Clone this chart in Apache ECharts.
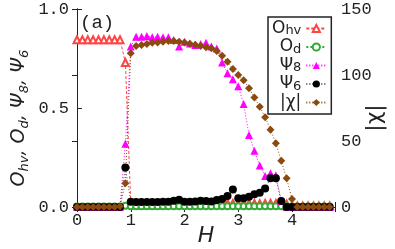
<!DOCTYPE html>
<html><head><meta charset="utf-8">
<script src="https://cdn.jsdelivr.net/npm/echarts@6/dist/echarts.min.js"></script>
<style>html,body{margin:0;padding:0;background:#fff}#c{width:395px;height:249px}</style>
</head><body><div id="c"></div>
<script>
const H = [0,0.1,0.2,0.3,0.4,0.5,0.6,0.7,0.8,0.9,1.0,1.1,1.2,1.3,1.4,1.5,1.6,1.7,1.8,1.9,2.0,2.1,2.2,2.3,2.4,2.5,2.6,2.7,2.8,2.9,3.0,3.1,3.2,3.3,3.4,3.5,3.6,3.7,3.8,3.9,4.0,4.1,4.2,4.3,4.4,4.5,4.6,4.7];
const Ohv = [0.845,0.845,0.845,0.845,0.845,0.845,0.845,0.845,0.845,0.73,0.02,0.01,0.01,0.01,0.01,0.01,0.01,0.012,0.015,0.018,0.016,0.018,0.017,0.018,0.019,0.018,0.017,0.018,0.019,0.018,0.017,0.018,0.019,0.018,0.017,0.018,0.019,0.018,0.017,0.015,0.005,0.005,0.005,0.005,0.005,0.005,0.005,0.005];
const Od = [0.003,0.003,0.003,0.003,0.003,0.003,0.003,0.003,0.003,0.006,0.004,0.004,0.004,0.004,0.004,0.004,0.004,0.004,0.004,0.004,0.004,0.004,0.004,0.004,0.004,0.004,0.004,0.004,0.004,0.004,0.004,0.004,0.004,0.004,0.004,0.004,0.004,0.004,0.004,0.004,0.003,0.003,0.003,0.003,0.003,0.003,0.003,0.003];
const Psi8 = [0,0,0,0,0,0,0,0,0,0.32,0.81,0.86,0.86,0.864,0.857,0.86,0.857,0.857,0.843,0.81,0.835,0.826,0.818,0.823,0.83,0.81,0.80,0.73,0.675,0.645,0.61,0.52,0.364,0.284,0.21,0.157,0.17,0.16,0.03,0,0,0,0,0,0,0,0,0];
const Psi6 = [0,0,0,0,0,0,0,0,0,0.2,0.027,0.025,0.025,0.025,0.025,0.025,0.026,0.027,0.032,0.036,0.027,0.027,0.028,0.032,0.03,0.028,0.035,0.04,0.055,0.088,0.044,0.044,0.052,0.064,0.072,0.094,0.145,0.145,0.03,0,0,0,0,0,0,0,0,0];
const Chi = [0,0,0,0,0,0,0,0,0.5,18,116.5,122,122.7,123.5,124.5,124.7,125.2,125.8,125.8,125.2,124.7,123.7,122.9,122,121,120.2,118.2,114.6,110,104.5,100,96,90,83,76,68,58.5,48.3,35,21.7,6,0,0,0,0,0,0,0];
const xTicks = [0,1,2,3,4];
const leftTicks = [0,0.5,1.0];
const rightTicks = [0,50,100,150];

const pair = arr => H.map((h,i)=>[h,arr[i]]);
const tickFont = {fontFamily:'Liberation Mono', fontSize:17, color:'#222'};
const legendNames = {
  Ohv:'{b|O}{s|hv}', Od:'{b|O}{s|d}', Psi8:'{b|Ψ}{s|8}', Psi6:'{b|Ψ}{s|6}', chi:'{b||χ|}'
};
const chart = echarts.init(document.getElementById('c'), null, {renderer:'canvas'});
chart.setOption({
  animation:false,
  backgroundColor:'#fff',
  title:{text:'(a)', left:80, top:13, padding:0, textStyle:{fontFamily:'Liberation Mono', fontSize:19, fontWeight:'normal', color:'#222'}},
  grid:{left:77, right:60, top:9, bottom:42, containLabel:false, outerBoundsMode:'none'},
  legend:{
    orient:'vertical', left:268, top:17, align:'right', padding:[3,4,3,4], itemGap:1,
    itemWidth:20, itemHeight:9, borderColor:'#222', borderWidth:1.5, backgroundColor:'#fff',
    data:['Ohv','Od','Psi8','Psi6','chi'],
    formatter: n => legendNames[n],
    textStyle:{color:'#222', rich:{
      b:{fontFamily:'DejaVu Sans', fontSize:17, color:'#222', lineHeight:18, verticalAlign:'middle'},
      s:{fontFamily:'DejaVu Sans', fontSize:13, color:'#222', verticalAlign:'bottom', lineHeight:4}
    }}
  },
  xAxis:[{
    type:'value', min:0, max:4.8, interval:1, position:'bottom',
    axisLine:{lineStyle:{color:'#222', width:1}},
    axisTick:{inside:true, length:5, lineStyle:{color:'#222'}},
    minorTick:{show:true, splitNumber:5, length:3, lineStyle:{color:'#222'}},
    splitLine:{show:false},
    axisLabel:Object.assign({margin:5, showMaxLabel:false, formatter:v=>xTicks.includes(v)?String(v):''}, tickFont),
    name:'H', nameLocation:'middle', nameGap:18, nameMoveOverlap:false,
    nameTextStyle:{fontFamily:'DejaVu Sans', fontStyle:'italic', fontSize:22, color:'#222', verticalAlign:'top'}
  },{
    type:'value', min:0, max:4.8, interval:1, position:'top',
    axisLine:{lineStyle:{color:'#222', width:1}},
    axisTick:{inside:true, length:5, lineStyle:{color:'#222'}},
    minorTick:{show:true, splitNumber:5, length:3, lineStyle:{color:'#222'}},
    splitLine:{show:false}, axisLabel:{show:false}
  }],
  yAxis:[{
    type:'value', min:0, max:1, interval:0.5, position:'left',
    axisLine:{show:true, lineStyle:{color:'#222', width:1}},
    axisTick:{show:true, inside:true, length:5, lineStyle:{color:'#222'}},
    splitLine:{show:false},
    axisLabel:Object.assign({margin:8, formatter:v=>leftTicks.includes(v)?v.toFixed(1):''}, tickFont),
    name:'{i|O}{t|hv}{i|, O}{t|d}{i|, Ψ}{t|8}{i|, Ψ}{t|6}', nameLocation:'middle', nameRotate:90, nameGap:46, nameMoveOverlap:false,
    nameTextStyle:{color:'#222', padding:[0,20,0,0], rich:{
      i:{fontFamily:'DejaVu Sans', fontStyle:'italic', fontSize:19, color:'#222', lineHeight:24},
      t:{fontFamily:'DejaVu Sans', fontStyle:'italic', fontSize:13, color:'#222', verticalAlign:'bottom', padding:[10,0,0,0], lineHeight:24}
    }}
  },{
    type:'value', min:0, max:150, interval:50, position:'right',
    axisLine:{show:true, lineStyle:{color:'#222', width:1}},
    axisTick:{show:true, inside:true, length:5, lineStyle:{color:'#222'}},
    splitLine:{show:false},
    axisLabel:Object.assign({margin:6, formatter:v=>rightTicks.includes(v)?String(v):''}, tickFont),
    name:'|χ|', nameLocation:'middle', nameRotate:90, nameGap:29, nameMoveOverlap:false,
    nameTextStyle:{fontFamily:'DejaVu Sans', fontSize:22, color:'#222', padding:[0,20,0,0]}
  }],
  series:[
    {name:'Ohv', type:'line', xAxisIndex:0, yAxisIndex:0, data:pair(Ohv), symbol:'emptyTriangle', symbolSize:7,
     itemStyle:{color:'#ff4444', borderWidth:1}, lineStyle:{color:'#ff4444', width:1, type:[3,2]}},
    {name:'Od', type:'line', xAxisIndex:0, yAxisIndex:0, data:pair(Od), symbol:'emptyCircle', symbolSize:6,
     itemStyle:{color:'#33aa33', borderWidth:1}, lineStyle:{color:'#33aa33', width:1, type:[2,2]}},
    {name:'Psi8', type:'line', xAxisIndex:0, yAxisIndex:0, data:pair(Psi8), symbol:'triangle', symbolSize:8,
     itemStyle:{color:'#ff00ff'}, lineStyle:{color:'#ff00ff', width:1, type:[1,2]}},
    {name:'Psi6', type:'line', xAxisIndex:0, yAxisIndex:0, data:pair(Psi6), symbol:'circle', symbolSize:8,
     itemStyle:{color:'#000'}, lineStyle:{color:'#555', width:1, type:[1,2]}},
    {name:'chi', type:'line', xAxisIndex:0, yAxisIndex:1, data:pair(Chi), symbol:'diamond', symbolSize:8,
     itemStyle:{color:'#8b4a10'}, lineStyle:{color:'#8b4a10', width:1, type:[1,2]}}
  ]
});
</script></body></html>
